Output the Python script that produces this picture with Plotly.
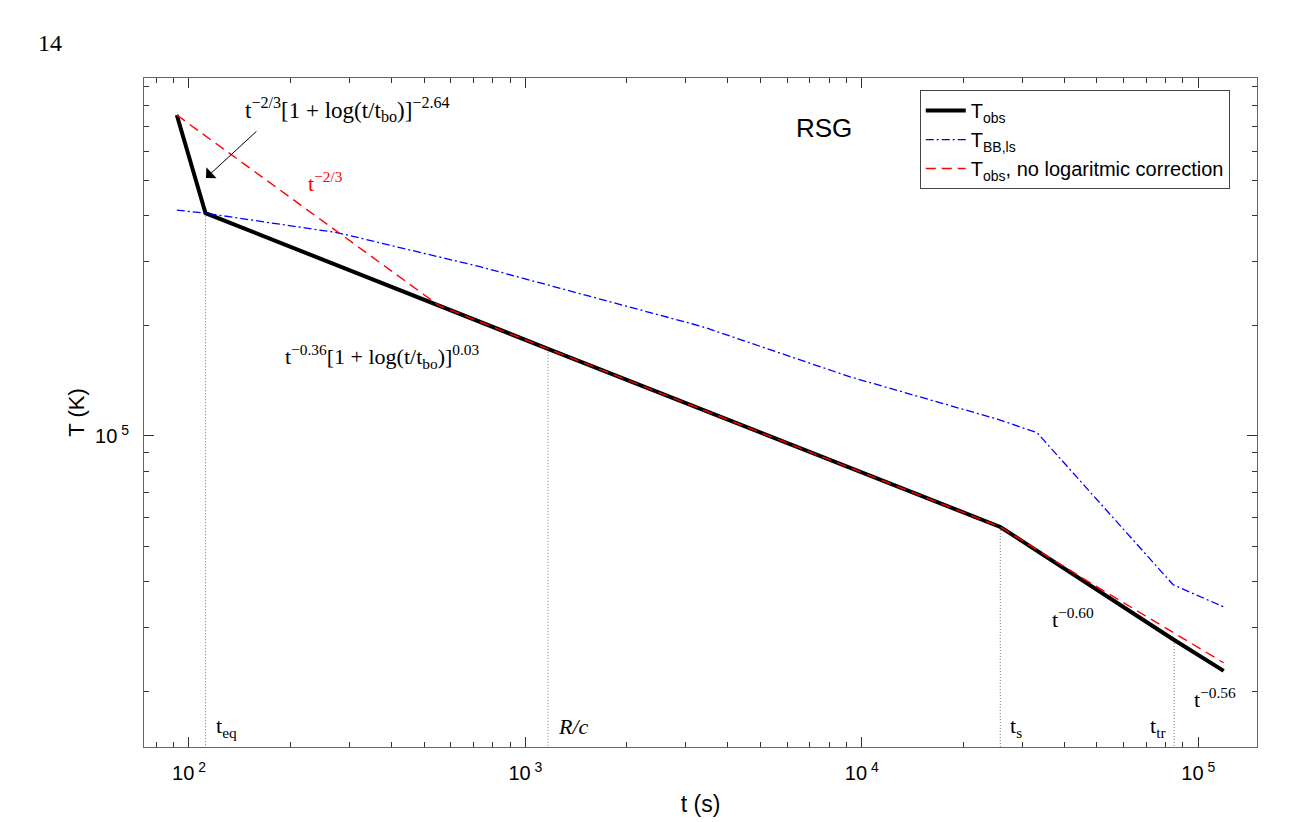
import numpy as np
import plotly.graph_objects as go

# curvas (t em s, T em K)
t_obs = [92, 112, 1167, 25800, 84800, 119000]
T_obs = [7.53e5, 4.06e5, 1.73e5, 5.64e4, 2.77e4, 2.28e4]

t_bb = [92, 112, 277, 733, 3350, 9230, 25400, 33200, 84200, 119000]
T_bb = [4.14e5, 4.06e5, 3.59e5, 2.90e5, 1.99e5, 1.45e5, 1.11e5, 1.02e5, 3.92e4, 3.41e4]

t_nolog = [92, 554, 1167, 25800, 46700, 84800, 119000]
T_nolog = [7.53e5, 2.27e5, 1.73e5, 5.64e4, 4.02e4, 2.90e4, 2.40e4]

# tempos caracteristicos (linhas verticais pontilhadas)
t_marks = [112, 1167, 25800, 84800]
T_marks = [4.06e5, 1.73e5, 5.64e4, 2.77e4]
mark_labels = ["t<sub>eq</sub>", "<i>R/c</i>", "t<sub>s</sub>", "t<sub>tr</sub>"]
mark_side = ["left", "left", "left", "right"]

x_major = [1e2, 1e3, 1e4, 1e5]
x_major_text = ["10<sup> 2</sup>", "10<sup> 3</sup>", "10<sup> 4</sup>", "10<sup> 5</sup>"]
y_major = [1e5]
y_major_text = ["10<sup> 5</sup>"]

xr = [np.log10(73.5), np.log10(1.495e5)]
yr = [4.150, 5.978]

x_minor = [m * 10**d for d in range(1, 6) for m in range(2, 10)]
y_minor = [m * 10**d for d in range(4, 6) for m in range(2, 10)]

sans = "Liberation Sans, Arial, sans-serif"
serif = "Liberation Serif, Times New Roman, serif"

fig = go.Figure()

# linhas verticais
vx, vy = [], []
for t, T in zip(t_marks, T_marks):
    vx += [t, t, None]
    vy += [T, 10**yr[0], None]
fig.add_trace(go.Scatter(x=vx, y=vy, mode="lines", showlegend=False, hoverinfo="skip",
                         line=dict(color="#777777", width=1, dash="1px,2px")))

fig.add_trace(go.Scatter(x=t_obs, y=T_obs, mode="lines", name="T<sub>obs</sub>",
                         line=dict(color="black", width=4)))
fig.add_trace(go.Scatter(x=t_bb, y=T_bb, mode="lines", name="T<sub>BB,ls</sub>",
                         line=dict(color="blue", width=1.3, dash="8px,3px,2px,3px")))
fig.add_trace(go.Scatter(x=t_nolog, y=T_nolog, mode="lines",
                         name="T<sub>obs</sub>, no logaritmic correction",
                         line=dict(color="red", width=1.4, dash="10px,6px")))

ann = []
for t, lab, side in zip(t_marks, mark_labels, mark_side):
    dx = 0.024 if side == "left" else -0.018
    ann.append(dict(x=np.log10(t) + dx, y=4.205, text=lab, showarrow=False,
                    xanchor=side, yanchor="middle", font=dict(family=serif, size=22, color="black")))

ann += [
    dict(x=2.1605, y=5.891, text="t<sup>−2/3</sup>[1 + log(t/t<sub>bo</sub>)]<sup>−2.64</sup>",
         showarrow=False, xanchor="left", yanchor="middle", font=dict(family=serif, size=23, color="black")),
    dict(x=2.0505, y=5.705, ax=2.205, ay=5.836, axref="x", ayref="y", text="", showarrow=True,
         arrowhead=1, arrowsize=2.5, arrowwidth=1, arrowcolor="black"),
    dict(x=2.407, y=5.694, text="t<sup>−2/3</sup>", showarrow=False,
         font=dict(family=serif, size=22, color="red")),
    dict(x=2.2794, y=5.216, text="t<sup>−0.36</sup>[1 + log(t/t<sub>bo</sub>)]<sup>0.03</sup>",
         showarrow=False, xanchor="left", yanchor="middle", font=dict(family=serif, size=22, color="black")),
    dict(x=4.628, y=4.503, text="t<sup>−0.60</sup>", showarrow=False,
         font=dict(family=serif, size=22, color="black")),
    dict(x=5.050, y=4.284, text="t<sup>−0.56</sup>", showarrow=False,
         font=dict(family=serif, size=22, color="black")),
    dict(x=3.888, y=5.8415, text="RSG", showarrow=False,
         font=dict(family=sans, size=26, color="black")),
    dict(x=-0.097, y=1.052, xref="paper", yref="paper", text="14", showarrow=False,
         xanchor="left", yanchor="middle", font=dict(family=serif, size=24, color="black")),
]

axis_common = dict(type="log", showline=True, linecolor="#666666", linewidth=1, mirror="ticks",
                   ticks="inside", ticklen=10, tickcolor="#333333", showgrid=False, zeroline=False,
                   tickfont=dict(family=sans, size=20, color="black"))

fig.update_xaxes(**axis_common, range=xr, tickmode="array", tickvals=x_major, ticktext=x_major_text,
                 ticklabelstandoff=8,
                 minor=dict(tickmode="array", tickvals=x_minor, ticks="inside", ticklen=5, tickcolor="#333333"),
                 title=dict(text="t (s)", font=dict(family=sans, size=23, color="black"), standoff=12))
fig.update_yaxes(**axis_common, range=yr, tickmode="array", tickvals=y_major, ticktext=y_major_text,
                 ticklabelstandoff=10,
                 minor=dict(tickmode="array", tickvals=y_minor, ticks="inside", ticklen=5, tickcolor="#333333"),
                 title=dict(text="T (K)", font=dict(family=sans, size=22, color="black"), standoff=4))

# a pagina desloca o grafico ~8px, compensado nas margens
fig.update_layout(width=1307, height=822, margin=dict(l=136, r=58, t=70, b=83),
                  plot_bgcolor="white", paper_bgcolor="white", annotations=ann,
                  legend=dict(x=0.697, y=0.982, xanchor="left", yanchor="top",
                              bgcolor="white", bordercolor="#444444", borderwidth=1,
                              font=dict(family=sans, size=20, color="black"),
                              tracegroupgap=0, itemwidth=40))

fig.write_html("out.html")
